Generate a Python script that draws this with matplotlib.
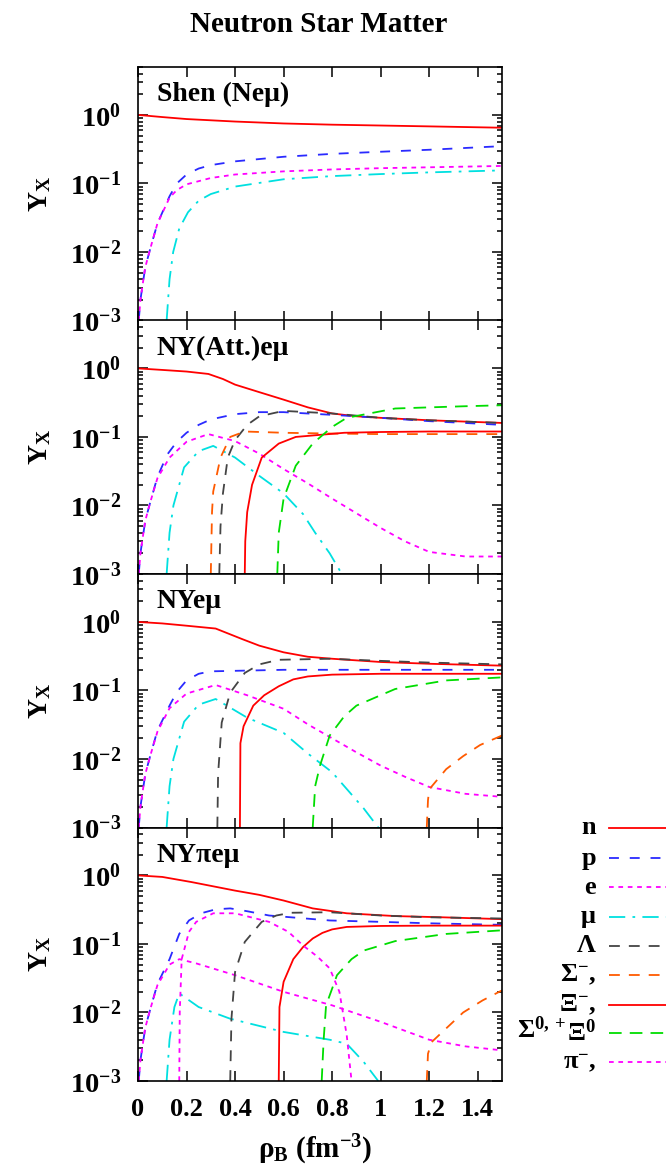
import numpy as np
import matplotlib
matplotlib.use("Agg")
import matplotlib.pyplot as plt
from matplotlib.lines import Line2D
from matplotlib.ticker import FixedLocator, FuncFormatter, LogLocator, NullFormatter

plt.rcParams['font.family'] = ['Liberation Serif', 'DejaVu Serif']
plt.rcParams['font.weight'] = 'bold'
plt.rcParams['mathtext.fontset'] = 'custom'
plt.rcParams['mathtext.rm'] = 'Liberation Serif:bold'
plt.rcParams['mathtext.it'] = 'Liberation Serif:bold'
plt.rcParams['mathtext.bf'] = 'Liberation Serif:bold'
plt.rcParams['mathtext.default'] = 'rm'

# ---- data (rho_B in fm^-3, Y_X) ----
# panel 1: Shen (N e mu)
shen_n = ([0, 0.1, 0.2, 0.4, 0.6, 0.8, 1.0, 1.2, 1.5],
          [1.0, 0.93, 0.87, 0.80, 0.75, 0.72, 0.70, 0.68, 0.65])
shen_p = ([0.003, 0.01, 0.02, 0.03, 0.05, 0.08, 0.13, 0.16, 0.2, 0.25, 0.3, 0.4, 0.6, 0.8, 1.0, 1.2, 1.5],
          [0.001, 0.002, 0.0035, 0.006, 0.011, 0.026, 0.065, 0.1, 0.135, 0.165, 0.185, 0.21, 0.245, 0.27, 0.29, 0.31, 0.35])
shen_e = ([0.003, 0.01, 0.02, 0.03, 0.05, 0.08, 0.13, 0.16, 0.2, 0.3, 0.4, 0.6, 0.8, 1.0, 1.2, 1.5],
          [0.001, 0.002, 0.0035, 0.006, 0.011, 0.026, 0.062, 0.08, 0.097, 0.12, 0.135, 0.15, 0.16, 0.167, 0.172, 0.18])
shen_mu = ([0.118, 0.13, 0.145, 0.17, 0.206, 0.25, 0.3, 0.4, 0.6, 0.8, 1.0, 1.2, 1.5],
           [0.001, 0.004, 0.01, 0.022, 0.038, 0.056, 0.07, 0.09, 0.115, 0.128, 0.137, 0.145, 0.155])

# panel 2: NY(Att.) e mu
att_n = ([0, 0.1, 0.2, 0.29, 0.35, 0.4, 0.5, 0.6, 0.7, 0.8, 0.9, 1.0, 1.2, 1.5],
         [1.0, 0.95, 0.9, 0.83, 0.7, 0.58, 0.45, 0.35, 0.27, 0.22, 0.2, 0.19, 0.175, 0.16])
att_p = ([0.003, 0.01, 0.02, 0.03, 0.05, 0.08, 0.12, 0.16, 0.2, 0.25, 0.3, 0.4, 0.5, 0.6, 0.8, 1.0, 1.2, 1.5],
         [0.001, 0.002, 0.0035, 0.006, 0.011, 0.026, 0.055, 0.085, 0.115, 0.15, 0.18, 0.215, 0.23, 0.23, 0.21, 0.19, 0.17, 0.15])
att_e = ([0.003, 0.01, 0.02, 0.03, 0.05, 0.08, 0.13, 0.2, 0.29, 0.4, 0.5, 0.6, 0.7, 0.8, 0.9, 1.0, 1.1, 1.2, 1.35, 1.5],
         [0.001, 0.002, 0.0035, 0.006, 0.011, 0.025, 0.05, 0.085, 0.11, 0.087, 0.057, 0.034, 0.021, 0.0126, 0.0077, 0.0047, 0.003, 0.0021, 0.0018, 0.0018])
att_mu = ([0.118, 0.13, 0.146, 0.19, 0.25, 0.31, 0.4, 0.5, 0.6, 0.68, 0.73, 0.79, 0.84],
          [0.001, 0.004, 0.01, 0.036, 0.062, 0.074, 0.05, 0.027, 0.015, 0.0075, 0.004, 0.002, 0.001])
att_lam = ([0.335, 0.34, 0.35, 0.37, 0.4, 0.45, 0.5, 0.6, 0.8, 1.0, 1.2, 1.5],
           [0.001, 0.005, 0.015, 0.05, 0.09, 0.15, 0.2, 0.24, 0.22, 0.19, 0.175, 0.16])
att_sig = ([0.30, 0.305, 0.31, 0.34, 0.38, 0.44, 0.6, 0.8, 1.0, 1.2, 1.5],
           [0.001, 0.008, 0.016, 0.05, 0.1, 0.12, 0.115, 0.112, 0.11, 0.11, 0.11])
att_xim = ([0.44, 0.442, 0.45, 0.47, 0.51, 0.58, 0.65, 0.85, 1.0, 1.2, 1.5],
           [0.001, 0.003, 0.008, 0.02, 0.05, 0.08, 0.1, 0.115, 0.118, 0.12, 0.12])
att_xi0 = ([0.574, 0.58, 0.6, 0.65, 0.72, 0.8, 0.86, 1.06, 1.2, 1.34, 1.5],
           [0.001, 0.004, 0.0126, 0.038, 0.08, 0.14, 0.19, 0.26, 0.27, 0.28, 0.29])

# panel 3: NY e mu
ny_n = ([0, 0.1, 0.2, 0.32, 0.43, 0.5, 0.6, 0.7, 0.8, 1.0, 1.2, 1.5],
        [1.0, 0.95, 0.88, 0.8, 0.56, 0.45, 0.36, 0.31, 0.29, 0.26, 0.245, 0.23])
ny_p = ([0.003, 0.01, 0.02, 0.03, 0.05, 0.08, 0.13, 0.16, 0.2, 0.25, 0.3, 0.6, 1.0, 1.5],
        [0.001, 0.002, 0.0035, 0.006, 0.011, 0.026, 0.06, 0.095, 0.14, 0.175, 0.19, 0.2, 0.2, 0.2])
ny_e = ([0.003, 0.01, 0.02, 0.03, 0.05, 0.08, 0.13, 0.2, 0.32, 0.45, 0.6, 0.7, 0.8, 0.9, 1.0, 1.1, 1.2, 1.35, 1.5],
        [0.001, 0.002, 0.0035, 0.006, 0.011, 0.025, 0.055, 0.09, 0.12, 0.085, 0.054, 0.032, 0.02, 0.0125, 0.008, 0.0055, 0.0039, 0.0031, 0.0028])
ny_mu = ([0.118, 0.13, 0.146, 0.19, 0.25, 0.32, 0.45, 0.6, 0.7, 0.8, 0.93, 0.99],
         [0.001, 0.004, 0.01, 0.035, 0.062, 0.075, 0.04, 0.024, 0.012, 0.0064, 0.0019, 0.001])
ny_lam = ([0.327, 0.33, 0.345, 0.38, 0.44, 0.5, 0.58, 0.79, 1.0, 1.2, 1.5],
          [0.001, 0.006, 0.034, 0.093, 0.18, 0.24, 0.28, 0.29, 0.27, 0.255, 0.24])
ny_xim = ([0.42, 0.422, 0.435, 0.475, 0.52, 0.58, 0.64, 0.7, 0.8, 1.0, 1.2, 1.5],
          [0.001, 0.017, 0.03, 0.06, 0.085, 0.115, 0.145, 0.16, 0.17, 0.175, 0.175, 0.175])
ny_xi0 = ([0.72, 0.73, 0.75, 0.79, 0.85, 0.9, 1.06, 1.27, 1.5],
          [0.001, 0.004, 0.008, 0.022, 0.042, 0.06, 0.105, 0.14, 0.155])
ny_sig = ([1.19, 1.195, 1.2, 1.27, 1.34, 1.41, 1.5],
          [0.001, 0.0025, 0.0036, 0.0071, 0.011, 0.016, 0.022])

# panel 4: NY pi e mu
pi_n = ([0, 0.1, 0.22, 0.4, 0.5, 0.6, 0.72, 0.86, 1.06, 1.25, 1.5],
        [1.0, 0.95, 0.8, 0.6, 0.52, 0.43, 0.33, 0.28, 0.255, 0.245, 0.23])
pi_p = ([0.003, 0.01, 0.02, 0.03, 0.05, 0.08, 0.13, 0.17, 0.21, 0.26, 0.32, 0.38, 0.45, 0.54, 0.79, 1.0, 1.2, 1.5],
        [0.001, 0.002, 0.0035, 0.006, 0.011, 0.026, 0.06, 0.14, 0.22, 0.28, 0.32, 0.33, 0.3, 0.26, 0.22, 0.21, 0.2, 0.19])
pi_e = ([0.003, 0.01, 0.02, 0.03, 0.05, 0.08, 0.13, 0.17, 0.24, 0.4, 0.6, 0.8, 1.0, 1.2, 1.35, 1.5],
        [0.001, 0.002, 0.0035, 0.006, 0.011, 0.025, 0.05, 0.06, 0.052, 0.035, 0.02, 0.0127, 0.0073, 0.004, 0.0032, 0.0028])
pi_pi = ([0.17, 0.172, 0.18, 0.21, 0.24, 0.31, 0.4, 0.54, 0.62, 0.68, 0.74, 0.79, 0.83, 0.86, 0.88],
         [0.001, 0.01, 0.06, 0.15, 0.21, 0.28, 0.28, 0.21, 0.15, 0.095, 0.065, 0.044, 0.02, 0.0047, 0.001])
pi_mu = ([0.118, 0.13, 0.15, 0.17, 0.25, 0.38, 0.6, 0.79, 0.86, 0.93, 0.99],
         [0.001, 0.004, 0.012, 0.019, 0.012, 0.0081, 0.0052, 0.004, 0.0035, 0.0019, 0.001])
pi_lam = ([0.38, 0.385, 0.4, 0.44, 0.51, 0.57, 0.63, 0.79, 1.0, 1.2, 1.5],
          [0.001, 0.008, 0.039, 0.107, 0.21, 0.26, 0.285, 0.29, 0.26, 0.245, 0.235])
pi_xim = ([0.58, 0.583, 0.6, 0.64, 0.68, 0.72, 0.76, 0.8, 0.86, 1.0, 1.2, 1.5],
          [0.001, 0.012, 0.028, 0.06, 0.09, 0.12, 0.145, 0.163, 0.177, 0.183, 0.185, 0.185])
pi_xi0 = ([0.757, 0.765, 0.775, 0.82, 0.88, 0.93, 1.06, 1.27, 1.5],
          [0.001, 0.004, 0.0127, 0.035, 0.06, 0.08, 0.11, 0.14, 0.158])
pi_sig = ([1.19, 1.195, 1.21, 1.34, 1.42, 1.5],
          [0.001, 0.0025, 0.0037, 0.01, 0.015, 0.021])

panel_names = ["Shen (Neμ)", "NY(Att.)eμ", "NYeμ", "NYπeμ"]
legend_labels = ["n", "p", "e", "μ", "Λ", "Σ$^{-}$,", "Ξ$^{-}$,", "Ξ$^{0}$", "π$^{-}$,"]

# styles: (colour, dash pattern)
STY = {
    "n":   ("#ff0000", "-"),
    "p":   ("#2a2aff", (0, (5.5, 6.0))),
    "e":   ("#ff00ff", (0, (2.6, 2.6))),
    "mu":  ("#00e0e0", (0, (9, 4, 1.5, 4))),
    "lam": ("#444444", (0, (6, 5))),
    "sig": ("#ff5a00", (0, (6, 5))),
    "xim": ("#ff0000", "-"),
    "xi0": ("#00dd00", (0, (7, 4.5))),
    "pi":  ("#ff00ff", (0, (2.6, 2.6))),
}

panels = [
    [("n", shen_n), ("p", shen_p), ("e", shen_e), ("mu", shen_mu)],
    [("n", att_n), ("p", att_p), ("e", att_e), ("mu", att_mu), ("lam", att_lam),
     ("sig", att_sig), ("xim", att_xim), ("xi0", att_xi0)],
    [("n", ny_n), ("p", ny_p), ("e", ny_e), ("mu", ny_mu), ("lam", ny_lam),
     ("sig", ny_sig), ("xim", ny_xim), ("xi0", ny_xi0)],
    [("n", pi_n), ("p", pi_p), ("e", pi_e), ("mu", pi_mu), ("lam", pi_lam),
     ("sig", pi_sig), ("xim", pi_xim), ("xi0", pi_xi0), ("pi", pi_pi)],
]

W, H = 666, 1171
fig = plt.figure(figsize=(W / 100, H / 100), dpi=100)

left, width = 138 / W, 364 / W
top_px, ph = 67, 253.5
LW = 1.3

for i, curves in enumerate(panels):
    bottom = 1 - (top_px + ph * (i + 1)) / H
    ax = fig.add_axes([left, bottom, width, ph / H])
    for key, (xs, ys) in curves:
        col, ls = STY[key]
        ax.semilogy(xs, ys, color=col, linestyle=ls, lw=LW)
    ax.set_xlim(0, 1.5)
    ax.set_ylim(1e-3, 5)
    ax.xaxis.set_major_locator(FixedLocator(np.arange(0, 1.41, 0.2)))
    ax.xaxis.set_major_formatter(FuncFormatter(lambda v, p: f"{v:g}"))
    ax.yaxis.set_major_locator(FixedLocator([1e-3, 1e-2, 1e-1, 1e0]))
    ax.yaxis.set_major_formatter(FuncFormatter(
        lambda v, p: "10$^{%d}$" % int(round(np.log10(v)))))
    ax.yaxis.set_minor_locator(LogLocator(base=10, subs=np.arange(2, 10), numticks=20))
    ax.yaxis.set_minor_formatter(NullFormatter())
    ax.tick_params(which="both", direction="in", top=True, right=True, width=1.1)
    ax.tick_params(axis="x", labelsize=19)
    ax.tick_params(axis="y", labelsize=20.5)
    ax.tick_params(which="major", length=7, pad=12)
    ax.tick_params(which="minor", length=3.5)
    if i < 3:
        ax.tick_params(labelbottom=False)
    for sp in ax.spines.values():
        sp.set_linewidth(1.2)
    ax.text(0.052, 0.89, panel_names[i], transform=ax.transAxes,
            fontsize=20, fontweight="bold", va="center", ha="left")
    fig.text(40 / W, 1 - (top_px + ph * (i + 0.5)) / H, "Y$_{X}$",
             rotation=90, fontsize=20, ha="center", va="center")

fig.text(319 / W, 1 - 25 / H, "Neutron Star Matter", fontsize=21,
         ha="center", va="center")
fig.text(315 / W, 1 - 1150 / H, "ρ$_{B}$ (fm$^{-3}$)", fontsize=21,
         ha="center", va="center")

# legend drawn by hand (cut by the right edge, as in the original)
leg_keys = ["n", "p", "e", "mu", "lam", "sig", "xim", "xi0", "pi"]
leg_rows = [828, 858, 887, 917, 946, 975, 1005, 1033, 1062]
for lab, key, ypx in zip(legend_labels, leg_keys, leg_rows):
    yf = 1 - ypx / H
    col, ls = STY[key]
    fig.text(596 / W, yf, lab, fontsize=19, ha="right", va="center")
    fig.add_artist(Line2D([609 / W, 1.05], [yf, yf], color=col, linestyle=ls,
                          lw=LW, transform=fig.transFigure))
fig.text(566 / W, 1 - 1030 / H, "Σ$^{0,+}$", fontsize=19, ha="right", va="center")

fig.savefig("out.png", dpi=100)
